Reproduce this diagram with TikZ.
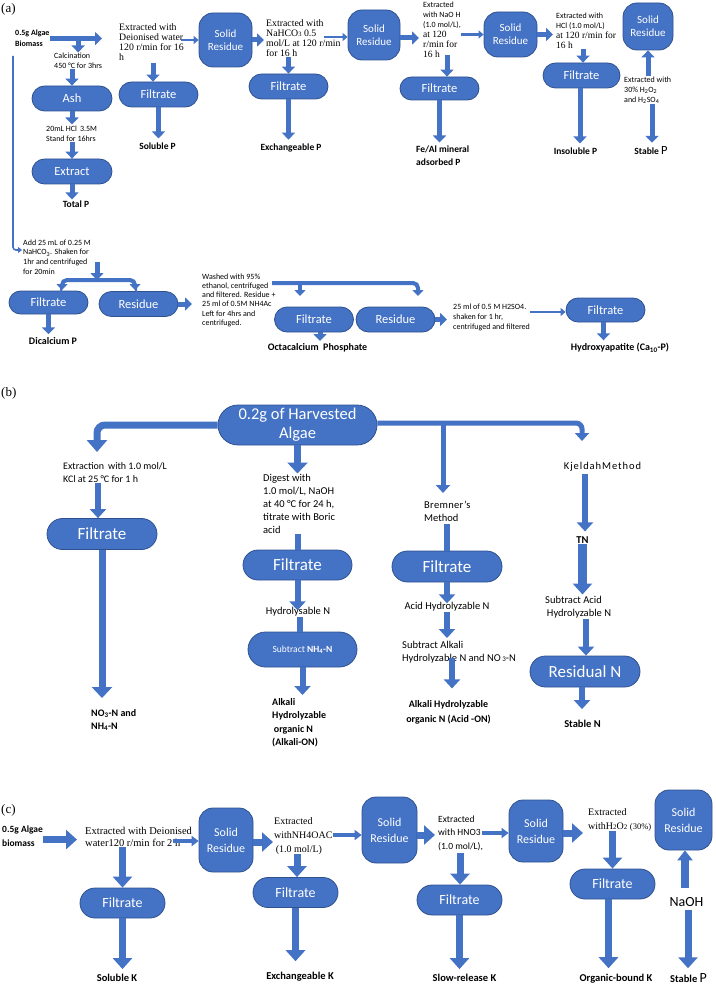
\documentclass[tikz,border=0pt]{standalone}
\usepackage{fontspec}
\setmainfont{Carlito}
\newfontfamily\srf{Liberation Serif}
\newfontfamily\spc[LetterSpace=9]{Carlito}
\newfontfamily\spcb[LetterSpace=3]{Carlito}
\usetikzlibrary{arrows.meta,shapes.misc}
\definecolor{nb}{HTML}{4472C4}
\definecolor{nbd}{HTML}{2F528F}
\newcommand\fsz[2]{\fontsize{#1}{#2}\selectfont}
\newcommand\sm{\fsz{8}{10}}
\newcommand\se{\srf\fsz{9.5}{10}}
\begin{document}
\begin{tikzpicture}[x=1pt,y=-1pt,
  pill/.style={rounded rectangle, fill=nb, draw=nbd, line width=0.8pt, text=white, inner sep=0pt, align=center},
  sres/.style={rectangle, rounded corners=14pt, fill=nb, draw=nbd, line width=0.8pt, text=white, inner sep=0pt, align=center},
  lbl/.style={inner sep=0pt, align=left},
  aA/.style={draw=nb, line width=5pt, -{Triangle[width=13pt,length=7pt]}},
  aT/.style={draw=nb, line width=2.5pt, -{Triangle[width=8pt,length=5pt]}},
  aThin/.style={draw=nb, line width=1.6pt, -{Triangle[width=6pt,length=4pt]}},
  bBar/.style={draw=nb, line width=4pt, rounded corners=5pt, -{Triangle[width=11pt,length=6pt]}},
  bL/.style={draw=nb, line width=7pt, -{Triangle[width=20pt,length=11pt]}},
  bM/.style={draw=nb, line width=6pt, -{Triangle[width=16pt,length=9pt]}},
  bLbar/.style={draw=nb, line width=7pt, rounded corners=8pt, -{Triangle[width=20pt,length=12pt]}},
  bRbar/.style={draw=nb, line width=5pt, rounded corners=6pt, -{Triangle[width=14pt,length=8pt]}},
  stub/.style={draw=nb, line width=6pt},
  cA/.style={draw=nb, line width=7pt, -{Triangle[width=19pt,length=11pt]}},
  cT/.style={draw=nb, line width=3.5pt, -{Triangle[width=10pt,length=7pt]}},
  labA/.style={inner sep=0pt, font=\bfseries\fsz{9.5}{12}},
  pA/.style={pill, minimum width=79pt, minimum height=25pt, font=\fsz{12.5}{14}},
  pB/.style={pill, minimum width=110pt, minimum height=31pt, font=\fsz{17}{19}},
  pC/.style={pill, minimum width=85pt, minimum height=30pt, font=\fsz{14}{16}},
  tB/.style={inner sep=0pt, align=left, font=\fsz{10.5}{13}},
  labC/.style={inner sep=0pt, font=\bfseries\fsz{10.5}{13}}
]
\useasboundingbox (0,0) rectangle (715,987);

% ================= Panel (a) =================
\node[lbl, font=\srf\fsz{13}{15}, anchor=west] (pa) at (1,9) {(a)};
\node[lbl, font=\bfseries\fsz{8}{11}, anchor=north west] (bio) at (15,30) {0.5g Algae\\Biomass};
\node[lbl, font=\fsz{8}{10}, anchor=north west] (calc) at (54,52.5) {Calcination\\450 °C for 3hrs};
\node[pill, minimum width=80pt, minimum height=25pt, font=\fsz{12.5}{14}] (ash) at (72,98.5) {Ash};
\node[lbl, font=\fsz{8}{10}, anchor=north west] (hcl) at (46,125.5) {20mL HCl \,3.5M\\Stand for 16hrs};
\node[pill, minimum width=80pt, minimum height=25pt, font=\fsz{12.5}{14}] (extr) at (72,171.5) {Extract};
\node[labA] (totp) at (76,204) {Total P};
\node[lbl, font=\srf\fsz{9.8}{10}, anchor=north west] (ext1) at (119,24) {Extracted with\\ Deionised water\\120 r/min for 16\\h};

\draw[aA] (bio.east) -- ([xshift=-17pt]ext1.west |- bio.east);
\draw[aA] (calc.north |- bio.east) -- (calc.north);
\draw[aA] (calc.south -| ash.north) -- (ash.north);
\draw[aA] (ash.south) -- ([yshift=1pt]ash.south |- hcl.north);
\draw[aA] (hcl.south -| extr.north) -- (extr.north);
\draw[aA] (extr.south) -- ([yshift=1pt]extr.south |- totp.north);

\node[sres, minimum width=53pt, minimum height=54pt, font=\fsz{11}{13}] (sr1) at (225.5,40) {Solid\\Residue};
\node[pA] (f1) at (158.5,94.5) {Filtrate};
\node[labA] (sp) at (157.5,146) {Soluble P};
\draw[aT] ([xshift=-18pt]sr1.west) -- (sr1.west);
\draw[aA] ([xshift=-5.5pt,yshift=-2pt]f1.north |- ext1.south) -- ([xshift=-5.5pt]f1.north);
\draw[aA] (f1.south) -- ([yshift=4pt]f1.south |- sp.north);

\node[lbl, font=\srf\fsz{9.8}{10}, anchor=north west] (ext2) at (266,19.5) {Extracted with\\NaHCO{\fsz{6.5}{10}3} 0.5\\mol/L at 120 r/min\\for 16 h};
\draw[aA] (sr1.east) -- ([xshift=-2pt]ext2.west |- sr1.east);
\node[sres, minimum width=52pt, minimum height=50pt, font=\fsz{11}{13}] (sr2) at (374,35) {Solid\\Residue};
\draw[aT] ([xshift=-24pt,yshift=-2pt]sr2.west) -- ([yshift=-2pt]sr2.west);
\node[pA] (f2) at (288.5,86.5) {Filtrate};
\node[labA] (ep) at (291,148) {Exchangeable P};
\draw[aA] (ext2.south -| f2.north) -- (f2.north);
\draw[aA] (f2.south) -- ([yshift=4pt]f2.south |- ep.north);

\node[lbl, font=\sm, anchor=north west] (ext3) at (423,1.5) {Extracted\\with NaO H\\(1.0 mol/L),\\{\se at 120}\\{\se r/min for}\\{\se 16 h}};
\draw[aA] ([yshift=-3pt]sr2.east) -- ([xshift=-4pt,yshift=-3pt]ext3.west |- sr2.east);
\node[sres, minimum width=53pt, minimum height=45pt, font=\fsz{11}{13}] (sr3) at (510.5,34.5) {Solid\\Residue};
\draw[aT] ([xshift=-23pt]sr3.west) -- (sr3.west);
\node[pill, minimum width=79pt, minimum height=23pt, font=\fsz{12.5}{14}] (f3) at (439.5,88.5) {Filtrate};
\node[lbl, font=\bfseries\fsz{9.5}{13}, anchor=north west] (fe) at (416,145.5) {Fe/Al mineral\\adsorbed P};
\draw[aA] ([xshift=7.5pt,yshift=3pt]f3.north |- ext3.south) -- ([xshift=7.5pt]f3.north);
\draw[aA] (f3.south) -- ([yshift=3pt]f3.south |- fe.north);

\node[lbl, font=\sm, anchor=north west] (ext4) at (556,12.5) {Extracted with\\HCl (1.0 mol/L)\\{\se at 120 r/min for}\\{\se 16 h}};
\draw[aA] (sr3.east) -- ([xshift=-3pt]ext4.west |- sr3.east);
\node[pill, minimum width=77pt, minimum height=25pt, font=\fsz{12.5}{14}] (f4) at (581.5,75.5) {Filtrate};
\node[labA] (ip) at (575.5,151) {Insoluble P};
\draw[aA] ([xshift=1.5pt]f4.north |- ext4.south) -- ([xshift=1.5pt]f4.north);
\draw[aA] ([xshift=-1.5pt]f4.south) -- ([xshift=-1.5pt,yshift=4pt]f4.south |- ip.north);

\node[sres, minimum width=50pt, minimum height=47pt, font=\fsz{11}{13}] (sr4) at (648,26.5) {Solid\\Residue};
\node[lbl, font=\sm, anchor=north west] (e5) at (624,76.5) {Extracted with\\30\% H\textsubscript{2}O\textsubscript{2}\\and H\textsubscript{2}SO\textsubscript{4}};
\node[inner sep=0pt] (stp) at (651,151) {{\bfseries\fsz{9.5}{12}Stable }{\fsz{12.5}{12}P}};
\draw[aA] (e5.north -| sr4.south) -- (sr4.south);
\draw[aA] ([xshift=4pt]sr4.south |- e5.south) -- ([xshift=4pt,yshift=4pt]sr4.south |- stp.north);

% --- (a) lower part ---
\coordinate (vt) at (13,56);
\coordinate (vb) at (22,250);
\draw[aThin, rounded corners=3pt] (vt) |- (vb);
\node[lbl, font=\fsz{8}{9.7}, anchor=north west] (add) at (23,239.5) {Add 25 mL of 0.25 M\\NaHCO\textsubscript{3}. Shaken for\\1hr and centrifuged\\for 20min};
\coordinate (j1s) at (97,262);
\coordinate (j1) at (97,280);
\draw[aA] (j1s) -- (j1);
\node[pill, minimum width=79pt, minimum height=23pt, font=\fsz{12.5}{14}] (fa) at (48.5,302.5) {Filtrate};
\node[pA] (ra) at (138.5,304) {Residue};
\coordinate (faT) at (62,290);
\coordinate (raT) at (135,290);
\draw[bBar] (j1) -| (faT);
\draw[bBar] (j1) -| (raT);
\node[inner sep=0pt, font=\bfseries\fsz{10}{12}] (dcp) at (53,341) {Dicalcium P};
\draw[aA] (fa.south) -- ([yshift=3pt]fa.south |- dcp.north);
\node[lbl, font=\fsz{8}{9.2}, anchor=north west] (wash) at (202,273.5) {Washed with 95\%\\ethanol, centrifuged\\and filtered. Residue +\\25 ml of 0.5M NH4Ac\\Left for 4hrs and\\centrifuged.};
\draw[aA] (ra.east) -- ([xshift=-10pt]wash.west |- ra.east);
\coordinate (wb) at (272,283);
\coordinate (wbL) at (300,296);
\coordinate (wbR) at (418,296);
\draw[bBar] (wb) -| (wbR);
\draw[bBar] (wbL |- wb) -- (wbL);
\node[pA] (fb) at (314,319.5) {Filtrate};
\node[pA] (rb) at (395.5,319.5) {Residue};
\node[inner sep=0pt, font=\bfseries\fsz{10}{12}] (oct) at (317.5,347.5) {Octacalcium\ \ Phosphate};
\draw[aA] ([xshift=6pt]fb.south) -- ([xshift=6pt,yshift=2pt]fb.south |- oct.north);
\node[lbl, font=\fsz{8}{10}, anchor=north west] (h2) at (453,303.5) {25 ml of 0.5 M H2SO4.\\shaken for 1 hr,\\centrifuged and filtered};
\draw[aA] (rb.east) -- ([xshift=-6pt]h2.west |- rb.east);
\node[pill, minimum width=79pt, minimum height=24pt, font=\fsz{12.5}{14}] (fc) at (605.5,310) {Filtrate};
\draw[aT] ([yshift=-2pt]h2.east |- fc.west) -- ([yshift=-2pt]fc.west);
\node[inner sep=0pt, font=\bfseries\fsz{10}{12}] (hyd) at (620,348) {Hydroxyapatite (Ca\textsubscript{10}-P)};
\draw[aA] ([xshift=-2pt]fc.south) -- ([xshift=-2pt,yshift=3pt]fc.south |- hyd.north);

% ================= Panel (b) =================
\node[lbl, font=\srf\fsz{13}{15}, anchor=west] (pb) at (1,393) {(b)};
\node[pill, minimum width=159pt, minimum height=40pt, font=\fsz{16.5}{19}] (hv) at (297.5,425) {0.2g of Harvested\\Algae};
\coordinate (bLt) at (97,452);
\coordinate (bRt) at (582,441);
\coordinate (bMt) at (443,493);
\draw[bLbar] (hv.west) -| (bLt);
\draw[bRbar] ([yshift=2pt]hv.east) -| (bRt);
\draw[bRbar] ([yshift=2pt]bMt |- hv.east) -- (bMt);

\node[tB, font=\fsz{10}{13}, anchor=north west] (ex1) at (63,462.5) {Extraction \,with 1.0 mol/L\\KCl at 25 °C for 1 h};
\node[pB] (fk1) at (102,534) {Filtrate};
\node[lbl, font=\bfseries\fsz{10}{13}, anchor=north west] (no3) at (91,709) {NO\textsubscript{3}-N and\\NH\textsubscript{4}-N};
\draw[bM] ([xshift=-4pt]fk1.north |- ex1.south) -- ([xshift=-4pt]fk1.north);
\draw[bL] (fk1.south) -- ([yshift=11pt]fk1.south |- no3.north);

\node[tB, anchor=north west] (dg) at (263,474.5) {Digest with\\1.0 mol/L, NaOH\\at 40 °C for 24 h,\\titrate with Boric\\acid};
\draw[bL] (hv.south) -- ([yshift=1pt]hv.south |- dg.north);
\node[pill, minimum width=109pt, minimum height=30pt, font=\fsz{17}{19}] (fk2) at (297.5,565) {Filtrate};
\draw[stub] (fk2.north |- dg.south) -- (fk2.north);
\node[inner sep=0pt, font=\fsz{10.5}{13}] (hyn) at (298,612) {Hydrolysable N};
\draw[bM] (fk2.south) -- ([yshift=-3pt]fk2.south |- hyn.north);
\node[pill, minimum width=109pt, minimum height=35pt, font=\fsz{9.5}{12}] (snh) at (302.5,649.5) {Subtract {\bfseries NH\textsubscript{4}-N}};
\draw[stub] ([xshift=-3pt]snh.north |- hyn.south) -- ([xshift=-3pt]snh.north);
\node[lbl, font=\bfseries\fsz{10}{13.4}, anchor=north west] (alk) at (272,698) {Alkali\\Hydrolyzable\\\,organic N\\(Alkali-ON)};
\draw[bM] (snh.south) -- ([yshift=3pt]snh.south |- alk.north);

\node[tB, anchor=north west] (brem) at (424,500.5) {{\spcb Bremner’s}\\Method};
\node[pB] (fk3) at (447,566.5) {Filtrate};
\draw[stub] ([yshift=-3pt]fk3.north |- brem.south) -- (fk3.north);
\node[inner sep=0pt, font=\fsz{10.5}{13}] (ahn) at (447,607) {Acid Hydrolyzable N};
\draw[bM] (fk3.south) -- ([yshift=-1pt]fk3.south |- ahn.north);
\node[tB, anchor=north west] (sak) at (402,641) {Subtract Alkali\\Hydrolyzable N and NO{\fsz{7}{13} 3}-N};
\draw[bM] (ahn.south) -- ([yshift=3pt]ahn.south |- sak.north);
\node[inner sep=0pt, align=center, font=\bfseries\fsz{10}{15}] (aho) at (448.5,712.5) {Alkali Hydrolyzable\\organic N (Acid -ON)};
\draw[bM] ([xshift=5pt,yshift=5pt]ahn.south |- sak.south) -- ([xshift=5pt,yshift=12pt]ahn.south |- aho.north);

\node[inner sep=0pt, font=\spc\fsz{10.5}{13}] (kj) at (602.5,467) {KjeldahMethod};
\node[inner sep=0pt, font=\bfseries\fsz{10.5}{13}] (tn) at (582.5,540) {TN};
\draw[bM] ([xshift=2.5pt,yshift=-2pt]tn.north |- kj.south) -- ([xshift=2.5pt,yshift=5pt]tn.north);
\node[tB, anchor=north west] (sac) at (545,596.5) {Subtract Acid\\\,Hydrolyzable N};
\draw[draw=nb, line width=9pt, -{Triangle[width=19pt,length=11pt]}] (tn.south) -- ([yshift=2pt]tn.south |- sac.north);
\node[pB] (rn) at (585,671.5) {Residual N};
\draw[bM] ([xshift=1pt]rn.north |- sac.south) -- ([xshift=1pt]rn.north);
\node[labC] (sn) at (582.5,724) {Stable N};
\draw[bM] ([xshift=-3pt]rn.south) -- ([xshift=-3pt,yshift=11pt]rn.south |- sn.north);

% ================= Panel (c) =================
\node[lbl, font=\srf\fsz{13}{15}, anchor=west] (pc) at (1,810) {(c)};
\node[lbl, font=\bfseries\fsz{9.5}{14}, anchor=north west] (bc) at (2,826) {0.5g Algae\\biomass};
\node[lbl, font=\srf\fsz{10.5}{12}, anchor=north west] (ec1) at (85,827) {Extracted with Deionised\\water120 r/min for 2 h};
\draw[cA] ([yshift=-3pt]bc.east) -- ([xshift=-8pt,yshift=-3pt]ec1.west |- bc.east);
\node[sres, minimum width=54pt, minimum height=64pt, font=\fsz{12}{16}] (src1) at (226,840) {Solid\\Residue};
\draw[cT] ([xshift=-26pt,yshift=-1pt]src1.west) -- ([yshift=-1pt]src1.west);
\node[pC] (fc1) at (122.5,903) {Filtrate};
\draw[cA] (fc1.north |- ec1.south) -- (fc1.north);
\node[labC] (sk) at (117,978) {Soluble K};
\draw[cA] (fc1.south) -- ([yshift=5pt]fc1.south |- sk.north);

\node[lbl, font=\srf\fsz{10}{14}, anchor=north west] (ec2) at (274,817) {Extracted\\withNH4OAC\\\,(1.0 mol/L)};
\draw[cA] ([yshift=-2pt]src1.east) -- ([xshift=-1pt,yshift=-2pt]ec2.west |- src1.east);
\node[sres, minimum width=55pt, minimum height=66pt, font=\fsz{12}{16}] (src2) at (389.5,830) {Solid\\Residue};
\draw[cT] ([xshift=-29pt,yshift=-5pt]src2.west) -- ([yshift=-5pt]src2.west);
\node[pC] (fc2) at (295.5,892.5) {Filtrate};
\draw[cA] ([xshift=1.5pt]fc2.north |- ec2.south) -- ([xshift=1.5pt]fc2.north);
\node[labC] (ek) at (300,977) {Exchangeable K};
\draw[cA] (fc2.south) -- ([yshift=11pt]fc2.south |- ek.north);

\node[lbl, font=\fsz{9.5}{13.5}, anchor=north west] (ec3) at (438,815.5) {Extracted\\with HNO3\\(1.0 mol/L),};
\draw[cA] ([yshift=-5pt]src2.east) -- ([xshift=-3pt,yshift=-5pt]ec3.west |- src2.east);
\node[sres, minimum width=54pt, minimum height=62pt, font=\fsz{12}{16}] (src3) at (536,831) {Solid\\Residue};
\draw[cT] ([xshift=-27pt,yshift=-2pt]src3.west) -- ([yshift=-2pt]src3.west);
\node[pC] (fc3) at (459.5,900) {Filtrate};
\draw[cA] ([xshift=0.5pt,yshift=-2pt]fc3.north |- ec3.south) -- ([xshift=0.5pt]fc3.north);
\node[labC] (slk) at (464.5,978) {Slow-release K};
\draw[cA] (fc3.south) -- ([yshift=5pt]fc3.south |- slk.north);

\node[lbl, font=\srf\fsz{10}{14}, anchor=north west] (ec4) at (588,808) {Extracted\\withH{\fsz{7}{14}2}O{\fsz{7}{14}2} {\fsz{8.5}{14}(30\%)}};
\draw[cA] ([yshift=-2pt]src3.east) -- ([xshift=-5pt,yshift=-2pt]ec4.west |- src3.east);
\node[pC] (fc4) at (612.5,884) {Filtrate};
\draw[cA] (fc4.north |- ec4.south) -- (fc4.north);
\node[labC] (obk) at (616,979) {Organic-bound K};
\draw[cA] ([xshift=-4pt]fc4.south) -- ([xshift=-4pt,yshift=6pt]fc4.south |- obk.north);

\node[sres, minimum width=57pt, minimum height=60pt, font=\fsz{12}{16}] (src4) at (683.5,820) {Solid\\Residue};
\node[inner sep=0pt, font=\fsz{14}{16}] (naoh) at (686.5,902) {NaOH};
\draw[draw=nb, line width=8pt, -{Triangle[width=15pt,length=10pt]}] ([xshift=1.5pt,yshift=9pt]src4.south |- naoh.north) -- ([xshift=1.5pt]src4.south);
\node[inner sep=0pt] (stp2) at (688.5,978) {{\bfseries\fsz{10.5}{13}Stable }{\fsz{14}{14}P}};
\draw[cA] ([xshift=1.5pt,yshift=-3pt]naoh.south) -- ([xshift=1.5pt,yshift=5pt]naoh.south |- stp2.north);
\end{tikzpicture}
\end{document}
